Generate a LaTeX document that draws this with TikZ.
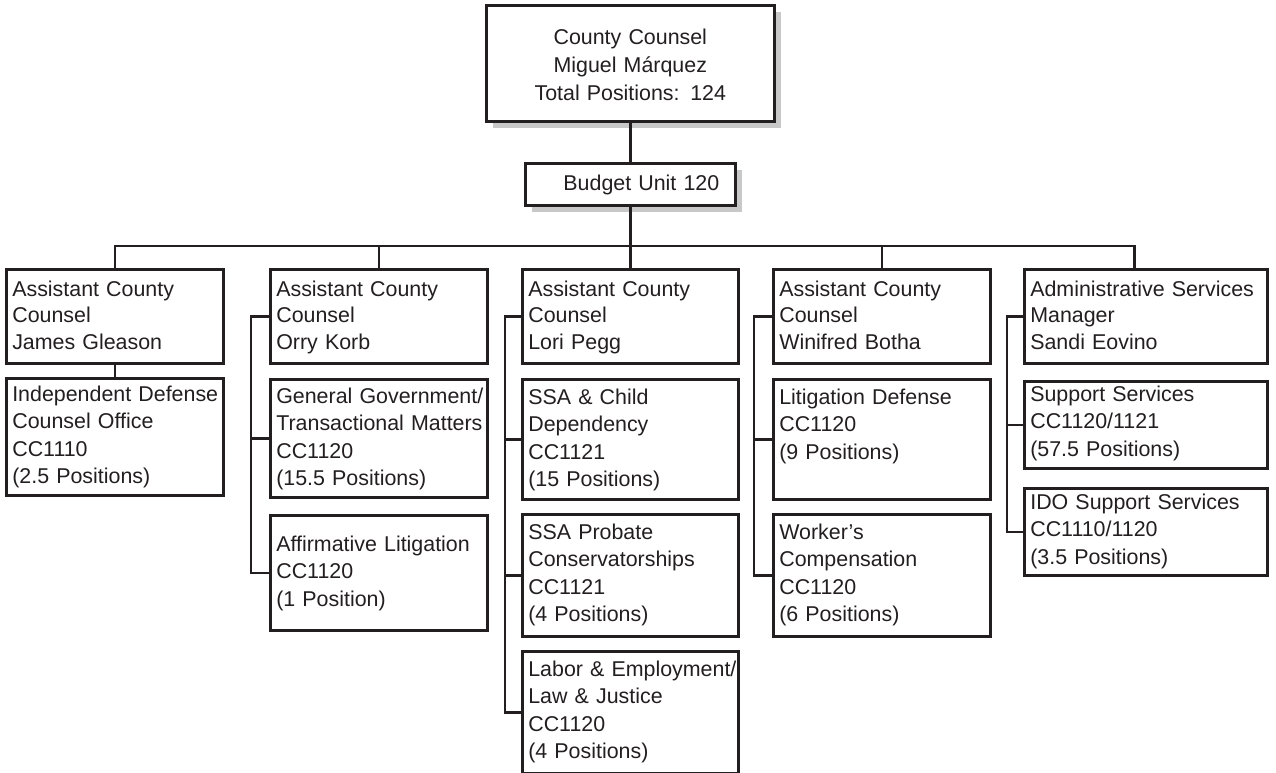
\documentclass[tikz,border=0pt]{standalone}
\usepackage{fontspec}
\setmainfont{Liberation Sans}
\usetikzlibrary{shadows}
\definecolor{ink}{HTML}{231F20}
\definecolor{shadegray}{HTML}{C8C8C8}

\begin{document}
\begin{tikzpicture}[x=1pt, y=-1pt,
  every node/.style={text=ink},
  % boxes: width, text width, first baseline offset, remaining depth
  unitbox/.style n args={4}{draw=ink, fill=white, line width=2.6pt, anchor=north west,
    align=left, inner xsep=6pt, inner ysep=0pt, minimum width=#1,
    text width=#2, text height=#3, text depth=#4,
    execute at begin node={\hyphenpenalty=10000\exhyphenpenalty=10000},
    font=\fontsize{21.4}{27.5}\selectfont},
  headbox/.style={font=\fontsize{21.4}{26.5}\selectfont},
  shadowed/.style={general shadow={fill=shadegray, shadow xshift=7pt, shadow yshift=-7pt}},
  link/.style={draw=ink, line width=2.6pt}
]
\useasboundingbox (0,0) rectangle (1276,773);

% top of the chart
\node[unitbox={288pt}{276pt}{39pt}{77pt}, align=center, shadowed,
      font=\fontsize{21.4}{28}\selectfont] (top) at (485,4)
  {County Counsel\\Miguel Márquez\\Total Positions: 124};
\node[unitbox={210pt}{178pt}{27pt}{15pt}, align=right, inner xsep=16pt, shadowed] (budget) at (524,162)
  {Budget Unit 120};

% division heads
\node[unitbox={217pt}{205pt}{27pt}{67pt}, headbox] (h1) at (5,268)
  {Assistant County\\Counsel\\James Gleason};
\node[unitbox={217pt}{205pt}{27pt}{67pt}, headbox] (h2) at (269,268)
  {Assistant County\\Counsel\\Orry Korb};
\node[unitbox={216pt}{204pt}{27pt}{67pt}, headbox] (h3) at (521,268)
  {Assistant County\\Counsel\\Lori Pegg};
\node[unitbox={217pt}{205pt}{27pt}{67pt}, headbox] (h4) at (772,268)
  {Assistant County\\Counsel\\Winifred Botha};
\node[unitbox={243pt}{231pt}{27pt}{67pt}, headbox] (h5) at (1023,268)
  {Administrative~Services\\Manager\\Sandi Eovino};

% units
\node[unitbox={217pt}{205pt}{23pt}{94pt}] (c1) at (5,377)
  {Independent~Defense\\Counsel Office\\CC1110\\(2.5 Positions)};
\node[unitbox={217pt}{205pt}{24pt}{94pt}] (g2) at (269,378)
  {General~Government/\\Transactional~Matters\\CC1120\\(15.5 Positions)};
\node[unitbox={217pt}{205pt}{36pt}{79pt}] (a2) at (269,514)
  {Affirmative~Litigation\\CC1120\\(1 Position)};
\node[unitbox={216pt}{204pt}{25pt}{95pt}] (s3) at (521,378)
  {SSA \& Child\\Dependency\\CC1121\\(15 Positions)};
\node[unitbox={216pt}{204pt}{25pt}{97pt}] (p3) at (521,513)
  {SSA Probate\\Conservatorships\\CC1121\\(4 Positions)};
\node[unitbox={216pt}{204pt}{25pt}{97pt}] (l3) at (521,650)
  {Labor~\&~Employment/\\Law \& Justice\\CC1120\\(4 Positions)};
\node[unitbox={217pt}{205pt}{25pt}{95pt}] (d4) at (772,378)
  {Litigation Defense\\CC1120\\(9 Positions)};
\node[unitbox={217pt}{205pt}{25pt}{97pt}] (w4) at (772,513)
  {Worker’s\\Compensation\\CC1120\\(6 Positions)};
\node[unitbox={243pt}{231pt}{20pt}{67pt}] (u5) at (1023,380)
  {Support Services\\CC1120/1121\\(57.5 Positions)};
\node[unitbox={243pt}{231pt}{21pt}{66pt}] (i5) at (1023,487)
  {IDO Support Services\\CC1110/1120\\(3.5 Positions)};

% reporting lines
\draw[link] (top) -- (budget);
\draw[link] (budget) -- (h3);
\draw[link] (h1.north) -- ++(0,-22) -| ([xshift=-11.5pt]h5.north);
\draw[link] (h2.north) -- ++(0,-22);
\draw[link] (h4.north) -- ++(0,-22);
\draw[link] (h1) -- (c1);

\draw[link] (h2.west) -- ++(-18,0) coordinate (k2) |- (a2.west);
\draw[link] (k2 |- g2.west) -- (g2.west);

\draw[link] (h3.west) -- ++(-16,0) coordinate (k3) |- (l3.west);
\draw[link] (k3 |- s3.west) -- (s3.west);
\draw[link] (k3 |- p3.west) -- (p3.west);

\draw[link] (h4.west) -- ++(-18,0) coordinate (k4) |- (w4.west);
\draw[link] (k4 |- d4.west) -- (d4.west);

\draw[link] (h5.west) -- ++(-16,0) coordinate (k5) |- (i5.west);
\draw[link] (k5 |- u5.west) -- (u5.west);
\end{tikzpicture}
\end{document}
